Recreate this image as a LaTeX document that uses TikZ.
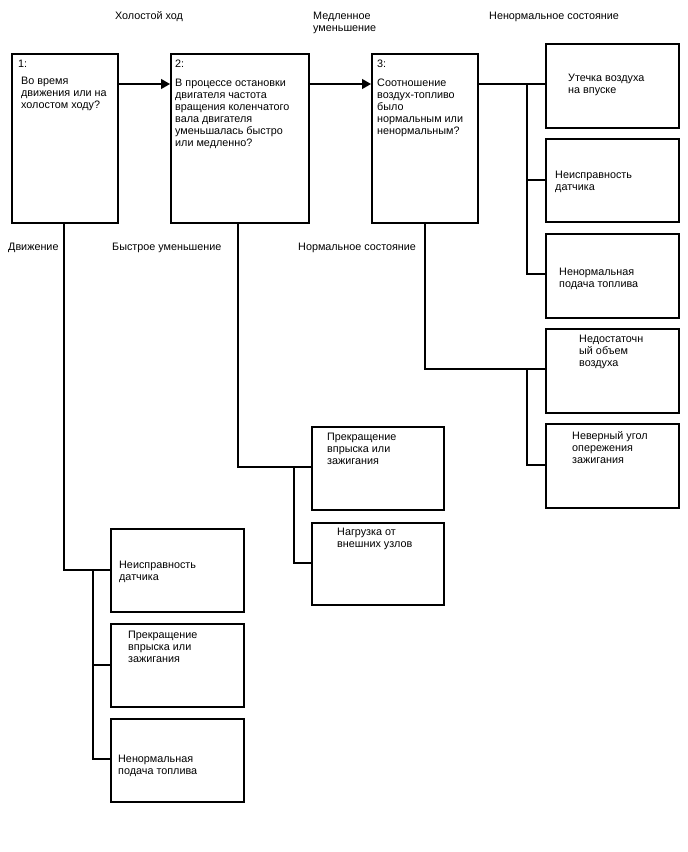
\documentclass[tikz,border=0pt]{standalone}
\usepackage{fontspec}
\setmainfont{Liberation Sans}
\usetikzlibrary{arrows.meta}
\begin{document}
\begin{tikzpicture}[x=1pt,y=-1pt,
  box/.style={draw, line width=1.6pt, inner sep=0pt, anchor=north west},
  txt/.style={anchor=north west, inner sep=0pt, align=left, font=\fontsize{10.8}{12}\selectfont},
  lbl/.style={inner sep=0pt, align=left, font=\fontsize{10.8}{12}\selectfont},
  conn/.style={line width=1.3pt},
  arr/.style={conn, -{Triangle[length=9pt,width=10pt]}}]
\useasboundingbox (0,0) rectangle (688,852);
% boxes
\node[box, minimum width=106pt, minimum height=169pt] (b1) at (11,53) {};
\node[box, minimum width=138pt, minimum height=169pt] (b2) at (170,53) {};
\node[box, minimum width=106pt, minimum height=169pt] (b3) at (371,53) {};
\node[box, minimum width=133pt, minimum height=84pt] (r1) at (545,43) {};
\node[box, minimum width=133pt, minimum height=83pt] (r2) at (545,138) {};
\node[box, minimum width=133pt, minimum height=84pt] (r3) at (545,233) {};
\node[box, minimum width=133pt, minimum height=84pt] (r4) at (545,328) {};
\node[box, minimum width=133pt, minimum height=84pt] (r5) at (545,423) {};
\node[box, minimum width=132pt, minimum height=83pt] (m1) at (311,426) {};
\node[box, minimum width=132pt, minimum height=82pt] (m2) at (311,522) {};
\node[box, minimum width=133pt, minimum height=83pt] (l1) at (110,528) {};
\node[box, minimum width=133pt, minimum height=83pt] (l2) at (110,623) {};
\node[box, minimum width=133pt, minimum height=83pt] (l3) at (110,718) {};
% box texts
\node[txt] (t1n) at (18,60) {1:};
\node[txt] (t1) at (21,77) {Во время\\движения или на\\холостом ходу?};
\node[txt] (t2) at (175,60) {2:\\[7pt]В процессе остановки\\двигателя частота\\вращения коленчатого\\вала двигателя\\уменьшалась быстро\\или медленно?};
\node[txt] (t3) at (377,60) {3:\\[7pt]Соотношение\\воздух-топливо\\было\\нормальным или\\ненормальным?};
\node[txt] (tr1) at (568,74) {Утечка воздуха\\на впуске};
\node[txt] (tr2) at (555,171) {Неисправность\\датчика};
\node[txt] (tr3) at (559,268) {Ненормальная\\подача топлива};
\node[txt] (tr4) at (579,335) {Недостаточн\\ый объем\\воздуха};
\node[txt] (tr5) at (572,431) {Неверный угол\\опережения\\зажигания};
\node[txt] (tm1) at (327,433) {Прекращение\\впрыска или\\зажигания};
\node[txt] (tm2) at (337,528) {Нагрузка от\\внешних узлов};
\node[txt] (tl1) at (119,561) {Неисправность\\датчика};
\node[txt] (tl2) at (128,631) {Прекращение\\впрыска или\\зажигания};
\node[txt] (tl3) at (118,755) {Ненормальная\\подача топлива};
% edge labels
\node[lbl] (e12) at (149,17) {Холостой ход};
\node[lbl, anchor=north west] (e23) at (313,12) {Медленное\\уменьшение};
\node[lbl, anchor=west] (e3r) at (489,17) {Ненормальное состояние};
\node[lbl, anchor=west] (e1l) at (8,248) {Движение};
\node[lbl, anchor=west] (e2m) at (112,248) {Быстрое уменьшение};
\node[lbl, anchor=west] (e3n) at (298,248) {Нормальное состояние};
% connectors
\draw[arr] (b1.east |- 0,84) -- (b2.west |- 0,84);
\draw[arr] (b2.east |- 0,84) -- (b3.west |- 0,84);
\draw[conn] (b3.east |- 0,84) -- (r1.west |- 0,84);
\draw[conn] (527,84) -- (527,274) -- (r3.west |- 0,274);
\draw[conn] (527,180) -- (r2.west |- 0,180);
\draw[conn] (b3.south -| 425,0) -- (425,369) -- (r4.west |- 0,369);
\draw[conn] (527,369) -- (527,465) -- (r5.west |- 0,465);
\draw[conn] (b2.south -| 238,0) -- (238,467) -- (m1.west |- 0,467);
\draw[conn] (294,467) -- (294,563) -- (m2.west |- 0,563);
\draw[conn] (b1.south -| 64,0) -- (64,570) -- (l1.west |- 0,570);
\draw[conn] (93,570) -- (93,759) -- (l3.west |- 0,759);
\draw[conn] (93,665) -- (l2.west |- 0,665);
\end{tikzpicture}
\end{document}
